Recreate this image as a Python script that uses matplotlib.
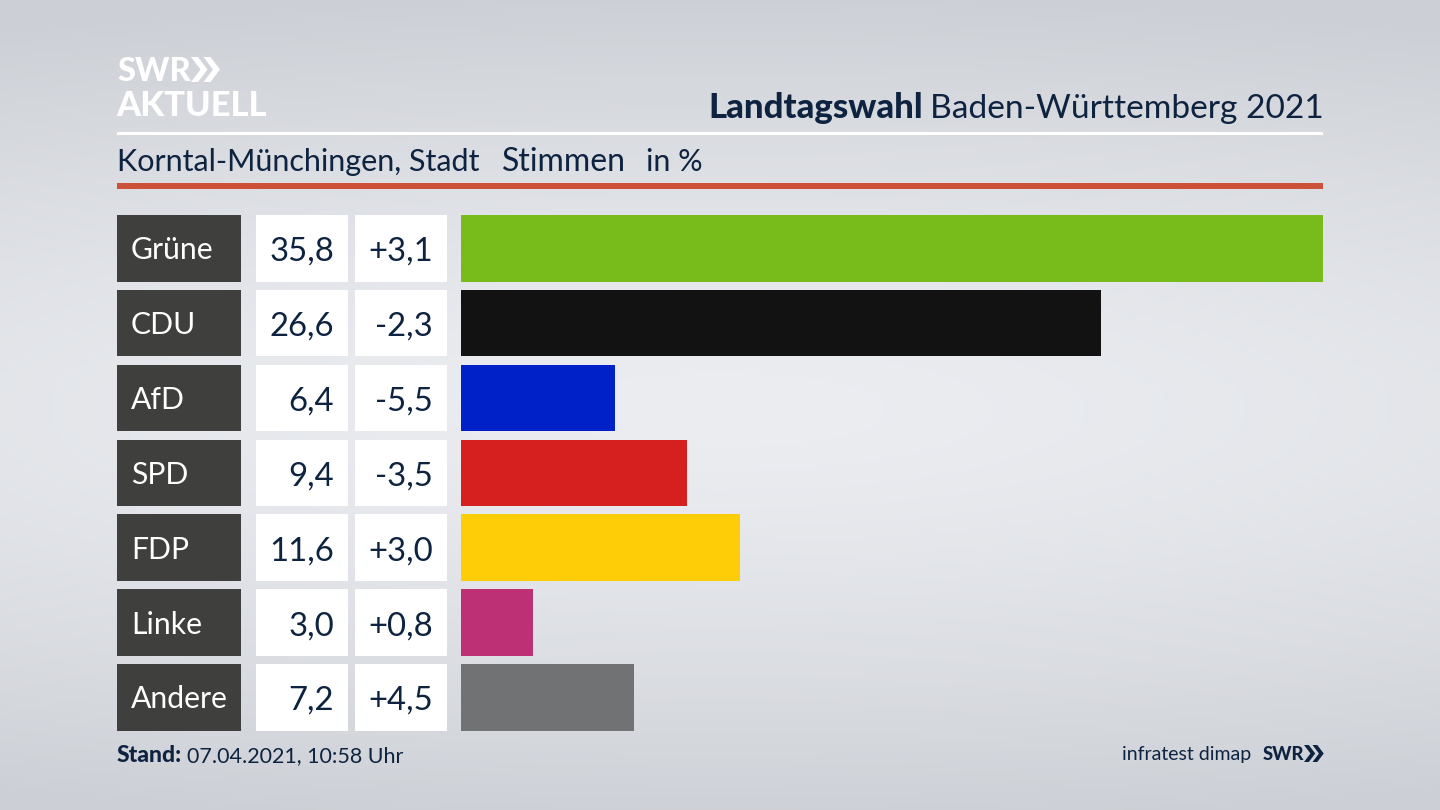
import numpy as np
import matplotlib
matplotlib.use("Agg")
import matplotlib.pyplot as plt
from matplotlib.patches import Rectangle, Polygon

parties = ["Grüne", "CDU", "AfD", "SPD", "FDP", "Linke", "Andere"]
shares = [35.8, 26.6, 6.4, 9.4, 11.6, 3.0, 7.2]
changes = ["+3,1", "-2,3", "-5,5", "-3,5", "+3,0", "+0,8", "+4,5"]
colors = ["#78bc1b", "#121212", "#0021c8", "#d6201f", "#ffcc08", "#bd3075", "#717273"]

NAVY = "#0e2340"
FONT = "Lato"
plt.rcParams["font.family"] = [FONT, "DejaVu Sans"]

fig = plt.figure(figsize=(14.4, 8.1), dpi=100)

# page layer in pixel coordinates
pg = fig.add_axes([0, 0, 1, 1])
pg.set_xlim(0, 1440)
pg.set_ylim(810, 0)
pg.axis("off")

yy, xx = np.mgrid[0:810:162j, 0:1440:288j]
d = np.sqrt(((xx - 720) / 1900) ** 2 + ((yy - 410) / 420) ** 2)
bg = np.clip(d, 0, 1) ** 1.4
top = np.array([235, 237, 241]) / 255
edge = np.array([204, 207, 213]) / 255
img = top[None, None, :] * (1 - bg[..., None]) + edge[None, None, :] * bg[..., None]
pg.imshow(img, extent=(0, 1440, 810, 0), aspect="auto", zorder=0, interpolation="bilinear")


def chevrons(x, y, h, color):
    w = h * 0.38
    t = h * 0.28
    for dx in (0, t + h * 0.22):
        pg.add_patch(Polygon([(x + dx, y), (x + dx + t, y), (x + dx + t + w, y + h / 2),
                              (x + dx + t, y + h), (x + dx, y + h), (x + dx + w, y + h / 2)],
                             closed=True, fc=color, ec="none", zorder=3))


# logo
pg.text(117, 81, "SWR", color="white", fontsize=23.5, fontweight="black", va="baseline", ha="left")
pg.text(116.5, 116, "AKTUELL", color="white", fontsize=24.8, fontweight="black", va="baseline", ha="left")
chevrons(191, 57, 25, "white")

# headings
pg.text(708, 118, "Landtagswahl", color=NAVY, fontsize=25, fontweight="black", va="baseline")
pg.text(930, 118, "Baden-Württemberg 2021", color=NAVY, fontsize=24.1, va="baseline")
pg.add_patch(Rectangle((117, 132), 1206, 3, fc="white", ec="none", zorder=2))
pg.text(117, 171, "Korntal-Münchingen, Stadt", color=NAVY, fontsize=22, va="baseline")
pg.text(502, 171, "Stimmen", color=NAVY, fontsize=23, va="baseline")
pg.text(646, 171, "in %", color=NAVY, fontsize=22, va="baseline")
pg.add_patch(Rectangle((117, 183), 1206, 6, fc="#cc5138", ec="none", zorder=2))

# bars
TOP = 215
ROW = 74.85
H = 66.6
BOTTOM = TOP + 6 * ROW + H
ax = fig.add_axes([461 / 1440, 1 - BOTTOM / 810, 862 / 1440, (BOTTOM - TOP) / 810])
ax.patch.set_alpha(0)
ax.axis("off")
pos = np.arange(len(parties))
ax.barh(pos, shares, height=H / ROW, color=colors, linewidth=0)
ax.set_xlim(0, max(shares))
ax.set_ylim(len(parties) - 1 + H / ROW / 2, -H / ROW / 2)

# table cells
for i, (name, val, chg) in enumerate(zip(parties, shares, changes)):
    y = TOP + i * ROW
    cy = y + H / 2
    pg.add_patch(Rectangle((117, y), 124, H, fc="#3f3f3d", ec="none", zorder=2))
    pg.add_patch(Rectangle((256, y), 92, H, fc="white", ec="none", zorder=2))
    pg.add_patch(Rectangle((355, y), 92, H, fc="white", ec="none", zorder=2))
    base = cy + 10
    pg.text(131, base + 1, name, color="white", fontsize=21.7, va="baseline", zorder=4)
    pg.text(334, base + 2.5, f"{val:.1f}".replace(".", ","), color=NAVY, fontsize=23.7,
            ha="right", va="baseline", zorder=4)
    pg.text(433, base + 2.5, chg, color=NAVY, fontsize=23.7, ha="right", va="baseline", zorder=4)

# footer
pg.text(117, 762, "Stand:", color=NAVY, fontsize=16.5, fontweight="black", va="baseline")
pg.text(187, 762, "07.04.2021, 10:58 Uhr", color=NAVY, fontsize=15.5, va="baseline")
pg.text(1251, 760, "infratest dimap", color=NAVY, fontsize=14, ha="right", va="baseline")
pg.text(1263, 760, "SWR", color=NAVY, fontsize=13.2, fontweight="black", va="baseline")
chevrons(1304, 745, 17, NAVY)

fig.savefig("out.png", dpi=100)
